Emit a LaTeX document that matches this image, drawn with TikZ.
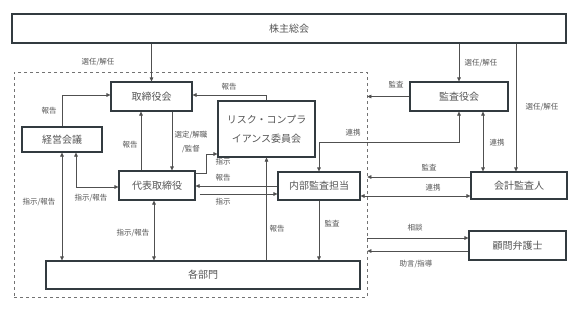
\documentclass[tikz,border=0pt]{standalone}
\usepackage{fontspec}
\setmainfont{Noto Sans CJK JP}
\usetikzlibrary{arrows.meta,calc}
\definecolor{boxc}{HTML}{333B40}
\definecolor{linec}{HTML}{505050}
\definecolor{txtc}{HTML}{555555}
\tikzset{
  box/.style={draw=boxc,line width=1.1pt,rectangle,inner sep=0pt,text=txtc,font=\fontsize{10}{12}\selectfont,align=center},
  lbl/.style={text=txtc,font=\fontsize{7.5}{10}\selectfont,inner sep=0pt,align=center},
  arr/.style={draw=linec,line width=0.6pt,-{Triangle[length=4pt,width=3.6pt]}},
  arrr/.style={draw=linec,line width=0.6pt,{Triangle[length=4pt,width=3.6pt]}-{Triangle[length=4pt,width=3.6pt]}},
  corpbox/.style={draw=black!55,dashed,line width=0.6pt,rectangle,inner sep=0pt}
}
\begin{document}
\begin{tikzpicture}[x=1pt,y=-1pt]
\useasboundingbox (0,0) rectangle (583,316);
% dashed corporate boundary
\node[corpbox,minimum width=353pt,minimum height=225pt] (corp) at (190.5,184.5) {};
% boxes
\node[box,minimum width=554pt,minimum height=29pt] (sh) at (289,28.5) {株主総会};
\node[box,minimum width=81pt,minimum height=29pt] (tb) at (151.5,96.5) {取締役会};
\node[box,minimum width=80pt,minimum height=25pt] (km) at (62,139.5) {経営会議};
\node[box,minimum width=97pt,minimum height=56pt,font=\fontsize{10}{19}\selectfont] (risk) at (266.5,129) {リスク・コンプラ\\イアンス委員会};
\node[box,minimum width=76pt,minimum height=29pt] (dh) at (157,185.5) {代表取締役};
\node[box,minimum width=82pt,minimum height=28pt] (ia) at (319,186) {内部監査担当};
\node[box,minimum width=314pt,minimum height=28pt] (bm) at (203,275) {各部門};
\node[box,minimum width=98pt,minimum height=29pt] (ka) at (459,96.5) {監査役会};
\node[box,minimum width=96pt,minimum height=27pt] (ca) at (519,185.5) {会計監査人};
\node[box,minimum width=97pt,minimum height=29pt] (lw) at (517.5,245.5) {顧問弁護士};
% helper coordinates
\coordinate (caTop) at ($(ca.north)+(-3,0)$);
\coordinate (dhA) at ($(dh.north)+(-16,0)$);
\coordinate (dhB) at ($(dh.north)+(15,0)$);
\coordinate (dhC) at ($(dh.east)+(0,-12)$);
\coordinate (riskIn) at ($(risk.west)+(0,25)$);
\coordinate (dhOut) at ($(ia.west)+(0,8)$);
\coordinate (kmB) at ($(km.south)+(14,0)$);
\coordinate (dhS) at ($(dh.south)+(-3,0)$);
\coordinate (kaR) at ($(ka.south)+(24,0)$);
\coordinate (caA) at ($(ca.west)+(0,-8.5)$);
\coordinate (iaR) at ($(ia.east)+(0,10)$);
\coordinate (lwA) at ($(lw.west)+(0,-7.5)$);
\coordinate (lwB) at ($(lw.west)+(0,5.5)$);
% connectors
\draw[arr] (tb.north |- sh.south) -- (tb.north);
\draw[arr] (ka.north |- sh.south) -- (ka.north);
\draw[arr] (caTop |- sh.south) -- (caTop);
\draw[arr] (km.north) |- ($(tb.west)+(0,-1.5)$);
\draw[arr] (risk.north) |- ($(tb.east)+(0,-1.5)$);
\draw[arr] (dhA) -- (dhA |- tb.south);
\draw[arr] (dhB |- tb.south) -- (dhB);
\draw[arr] (dhC) -- ++(11,0) |- (riskIn);
\draw[arr] (ia.west) -- (ia.west -| dh.east);
\draw[arr] ($(dhOut -| dh.east)+(4,0)$) -- (dhOut);
\draw[arr] (risk.south |- bm.north) -- (risk.south);
\draw[arr] (ia.south) -- (ia.south |- bm.north);
\draw[arrr] (km.south) -- (km.south |- bm.north);
\draw[arrr] (kmB) |- ($(dh.west)+(0,1.5)$);
\draw[arrr] (dhS) -- (dhS |- bm.north);
\draw[arrr] (ka.south) -- ++(0,31) -| (ia.north);
\draw[arrr] (kaR) -- (kaR |- ca.north);
\draw[arr] (ka.west) -- (ka.west -| corp.east);
\draw[arr] (caA) -- (caA -| corp.east);
\draw[arrr] (iaR) -- (iaR -| ca.west);
\draw[arr] (lwA -| corp.east) -- (lwA);
\draw[arr] (lwB) -- (lwB -| corp.east);
% labels
\node[lbl] (l1) at (98,62) {選任/解任};
\node[lbl] (l2) at (481,63) {選任/解任};
\node[lbl] (l3) at (542,107) {選任/解任};
\node[lbl] (l4) at (396,85) {監査};
\node[lbl] (l5) at (229,87) {報告};
\node[lbl] (l6) at (49,111) {報告};
\node[lbl] (l7) at (130,145) {報告};
\node[lbl,font=\fontsize{7.5}{14}\selectfont] (l8) at (191,142) {選定/解職\\/監督};
\node[lbl] (l9) at (223,162) {指示};
\node[lbl] (l10) at (223,178) {報告};
\node[lbl] (l11) at (223,202) {指示};
\node[lbl] (l12) at (353,133) {連携};
\node[lbl] (l13) at (497,143) {連携};
\node[lbl] (l14) at (429,168) {監査};
\node[lbl] (l15) at (433,188) {連携};
\node[lbl] (l16) at (91,198) {指示/報告};
\node[lbl] (l17) at (39,202) {指示/報告};
\node[lbl] (l18) at (133,233) {指示/報告};
\node[lbl] (l19) at (277,229) {報告};
\node[lbl] (l20) at (332,224) {監査};
\node[lbl] (l21) at (415,228) {相談};
\node[lbl] (l22) at (416,264) {助言/指導};
\end{tikzpicture}
\end{document}
